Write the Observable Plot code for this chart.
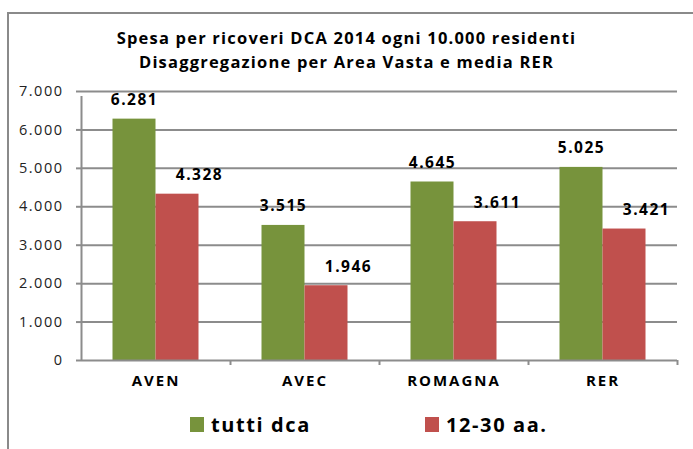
<!DOCTYPE html>
<html>
<head>
<meta charset="utf-8">
<script src="https://cdn.jsdelivr.net/npm/d3@7"></script>
<script src="https://cdn.jsdelivr.net/npm/@observablehq/plot@0.6"></script>
<style>
  html, body { margin: 0; padding: 0; background: #fff; }
  #wrap { position: relative; width: 693px; height: 449px; overflow: hidden; font-family: "Open Sans", sans-serif; }
  #border { position: absolute; left: 7px; top: 12px; width: 720px; height: 480px; border-left: 2px solid #8a8a8a; border-top: 2px solid #8a8a8a; }
  #title { position: relative; height: 80px; box-sizing: border-box; padding-top: 26px; text-align: center; font-weight: 700; font-size: 16.5px; line-height: 24px; color: #000; letter-spacing: 1.2px; }
  #chart { position: relative; height: 310px; }
  #chart svg { display: block; }
  #chart svg text { letter-spacing: 1.5px; }
  #chart svg g.xlab text { letter-spacing: 2px; }
  #legend { position: relative; height: 59px; }
  .item { position: absolute; top: 21px; display: flex; align-items: center; font-weight: 700; font-size: 20px; letter-spacing: 1.6px; color: #000; }
  .sw { width: 14px; height: 15px; margin-right: 7px; }
</style>
</head>
<body>
<div id="wrap">
  <div id="border"></div>
  <div id="title"></div>
  <div id="chart"></div>
  <div id="legend"></div>
</div>
<script>
const titleLines = ["Spesa per ricoveri DCA 2014 ogni 10.000 residenti", "Disaggregazione per Area Vasta e media RER"];
const categories = ["AVEN", "AVEC", "ROMAGNA", "RER"];
const seriesNames = ["tutti dca", "12-30 aa."];
const tuttiDca = [6281, 3515, 4645, 5025];
const aa1230 = [4328, 1946, 3611, 3421];
const yTicks = [0, 1000, 2000, 3000, 4000, 5000, 6000, 7000];
const colors = ["#77933C", "#C0504D"];

const itFmt = d3.formatLocale({decimal: ",", thousands: ".", grouping: [3], currency: ["", " €"]}).format(",d");

document.getElementById("title").innerHTML = titleLines.join("<br>");

const green = categories.map((c, i) => ({cat: c, series: seriesNames[0], value: tuttiDca[i]}));
const red = categories.map((c, i) => ({cat: c, series: seriesNames[1], value: aa1230[i]}));

const W = 693, mL = 81, mR = 16;
const step = (W - mL - mR) / categories.length; // band width
const barW = 43;
const half = step / 2;
const gridColor = "#8c8c8c";

const plot = Plot.plot({
  width: W,
  height: 310,
  marginTop: 11,
  marginLeft: mL,
  marginRight: mR,
  marginBottom: 30,
  style: {fontFamily: "Open Sans, sans-serif", fontSize: "13px", color: "#000", background: "transparent"},
  x: {domain: categories, padding: 0, label: null},
  y: {domain: [0, 7000], label: null},
  color: {domain: seriesNames, range: colors},
  marks: [
    Plot.ruleY(yTicks.filter(v => v > 0), {stroke: gridColor, strokeWidth: 2}),
    Plot.barY(green, {x: "cat", y: "value", fill: d => d.series, insetLeft: half - barW, insetRight: half}),
    Plot.barY(red, {x: "cat", y: "value", fill: d => d.series, insetLeft: half, insetRight: half - barW}),
    Plot.ruleY([0], {stroke: gridColor, strokeWidth: 2}),
    // y-axis line on the left edge (extends below as a tick)
    Plot.ruleX([categories[0]], {x: d => d, dx: -half, y1: 0, y2: 7000, insetBottom: -5, stroke: gridColor, strokeWidth: 2}),
    // category boundary ticks
    Plot.ruleX(categories.slice(1), {x: d => d, dx: -half, y1: 0, y2: 0, insetBottom: -5, stroke: gridColor, strokeWidth: 2}),
    Plot.ruleX([categories[categories.length - 1]], {x: d => d, dx: half, y1: 0, y2: 0, insetBottom: -5, stroke: gridColor, strokeWidth: 2}),
    Plot.axisY({ticks: yTicks, tickFormat: itFmt, tickSize: 5, tickPadding: 13, stroke: gridColor, strokeWidth: 2, strokeOpacity: 1, fill: "#222", fontSize: 14.5}),
    Plot.axisX({tickSize: 0, tickPadding: 15, fontWeight: "bold", fontSize: 15, fill: "#000", className: "xlab"}),
    Plot.text(green, {x: "cat", y: "value", text: d => itFmt(d.value), dx: -barW / 2, dy: -19, fontWeight: "bold", fontSize: 15.5, fill: "#000"}),
    Plot.text(red, {x: "cat", y: "value", text: d => itFmt(d.value), dx: barW / 2 + 22, dy: -19, fontWeight: "bold", fontSize: 15.5, fill: "#000"})
  ]
});
document.getElementById("chart").appendChild(plot);

const legend = document.getElementById("legend");
const lefts = [190, 425];
seriesNames.forEach((s, i) => {
  const it = document.createElement("div");
  it.className = "item";
  it.style.left = lefts[i] + "px";
  it.innerHTML = `<span class="sw" style="background:${colors[i]}"></span><span>${s}</span>`;
  legend.appendChild(it);
});
</script>
</body>
</html>
